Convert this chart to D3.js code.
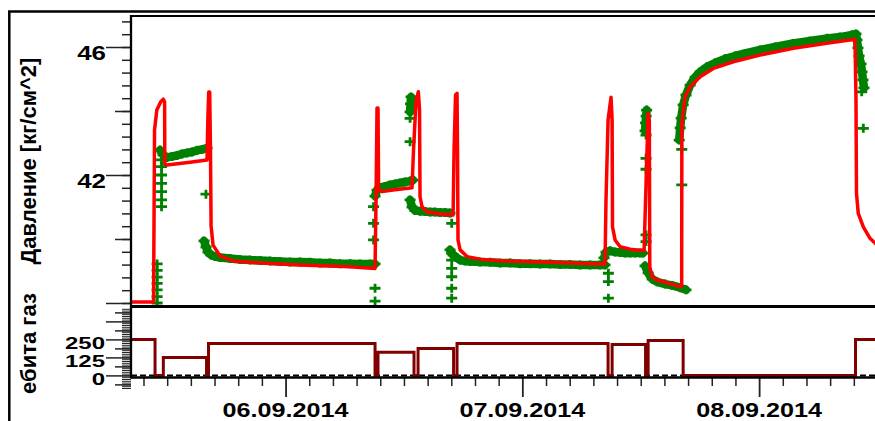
<!DOCTYPE html>
<html>
<head>
<meta charset="utf-8">
<script src="https://cdn.jsdelivr.net/npm/d3@7"></script>
<style>
  html, body { margin: 0; padding: 0; background: #fff; overflow: hidden; }
  svg { display: block; }
  text { font-family: "Liberation Sans", Arial, sans-serif; font-weight: bold; fill: #000; }
</style>
</head>
<body>
<svg id="chart" width="875" height="421"></svg>
<script>
// Time is given in hours since 05.09.2014 00:00.

// Visible time window (hours)
const timeWindow = [8.333, 84.76];

// Model pressure, kg/cm^2 (red line)
const modelPressure = [
  [8.34,38.03],[10.62,38.03],[10.72,43.41],[10.95,44.03],[11.35,44.29],[11.61,44.37],[11.74,44.28],
  [11.76,42.34],[11.96,42.31],[14.32,42.40],[16.04,42.47],[16.12,43.72],[16.21,44.59],[16.31,44.59],
  [16.39,42.78],[16.45,40.41],[16.65,39.81],[17.36,39.47],[18.68,39.31],[20.40,39.27],[25.47,39.19],
  [30.54,39.13],[33.07,39.08],[33.17,41.22],[33.27,44.09],[33.37,44.09],[33.43,41.53],[33.78,41.48],
  [34.89,41.53],[36.82,41.60],[36.97,42.78],[37.23,44.34],[37.46,44.60],[37.58,44.03],[37.63,41.32],
  [37.83,41.01],[38.34,40.85],[39.66,40.78],[40.98,40.75],[41.08,42.78],[41.23,44.50],[41.38,44.55],
  [41.43,42.78],[41.48,39.97],[41.69,39.66],[42.40,39.45],[43.71,39.37],[45.74,39.32],[50.80,39.27],
  [55.87,39.22],[56.38,39.22],[56.48,41.22],[56.69,43.72],[56.99,44.43],[57.10,43.72],[57.14,40.38],
  [57.40,39.97],[57.91,39.76],[58.92,39.68],[60.34,39.63],[60.55,41.84],[60.75,43.93],[60.87,43.72],
  [60.92,39.13],[61.16,38.82],[61.66,38.72],[64.00,38.51],[64.15,38.51],[64.17,43.62],[64.50,44.45],
  [65.01,44.76],[66.02,45.07],[67.36,45.33],[69.38,45.54],[72.10,45.75],[75.47,45.96],[78.85,46.12],
  [81.72,46.24],[81.82,44.34],[81.87,41.43],[82.05,40.80],[82.56,40.38],[83.24,40.02],[84.25,39.72]
];

// Measured pressure, continuous runs (null separates runs)
const measuredRuns = [
  [11.28,42.78],[11.58,42.63],[11.99,42.55],[12.50,42.58],[13.00,42.61],[13.51,42.66],[14.02,42.69],
  [14.52,42.72],[15.03,42.77],[15.54,42.80],[16.04,42.84],
  null,
  [15.74,39.94],[15.94,39.75],[16.14,39.59],[16.45,39.50],[16.86,39.45],[17.36,39.42],[18.38,39.39],
  [19.39,39.36],[20.40,39.34],[21.42,39.33],[22.43,39.31],[23.44,39.30],[24.46,39.28],[25.47,39.28],
  [26.48,39.27],[27.50,39.25],[28.51,39.25],[29.52,39.23],[30.54,39.23],[31.55,39.22],[32.57,39.22],
  [33.07,39.22],
  null,
  [33.07,41.34],[33.27,41.53],[33.58,41.61],[34.08,41.64],[34.59,41.69],[35.10,41.72],[35.60,41.75],
  [36.11,41.78],[36.62,41.81],[36.92,41.84],
  null,
  [36.62,43.97],[36.67,44.22],[36.72,44.44],
  null,
  [36.62,41.22],[36.82,41.00],[37.12,40.89],[37.63,40.87],[38.14,40.86],[38.65,40.84],[39.15,40.84],
  [39.66,40.83],[40.17,40.83],[40.67,40.81],
  null,
  [40.67,39.66],[40.98,39.50],[41.38,39.41],[41.69,39.34],[42.19,39.31],[42.70,39.30],[43.71,39.28],
  [44.73,39.27],[45.74,39.25],[46.75,39.25],[47.76,39.23],[48.78,39.23],[49.79,39.22],[50.80,39.22],
  [51.82,39.20],[52.83,39.20],[53.85,39.19],[54.86,39.19],[55.87,39.19],[56.38,39.19],
  null,
  [56.28,39.41],[56.48,39.59],[56.89,39.63],[57.40,39.59],[57.91,39.58],[58.42,39.56],[58.92,39.56],
  [59.43,39.56],[59.94,39.56],[60.24,39.56],
  null,
  [60.44,43.38],[60.49,43.63],[60.55,43.84],[60.60,44.03],
  null,
  [60.44,39.16],[60.75,38.94],[61.16,38.75],[61.66,38.66],[62.48,38.59],[63.17,38.55],[64.00,38.48],
  [64.59,38.41],
  null,
  [63.90,43.09],[64.00,43.47],[64.10,43.78],[64.30,44.19],[64.59,44.50],[65.01,44.81],[65.52,45.06],
  [66.02,45.22],[66.72,45.38],[67.53,45.50],[68.54,45.63],[69.56,45.72],[70.57,45.80],[72.10,45.91],
  [73.61,46.00],[75.44,46.11],[77.16,46.19],[78.89,46.27],[80.20,46.31],[81.42,46.38],[81.82,46.41],
  [81.92,46.22],[82.02,45.97],[82.13,45.72],[82.33,45.47],[82.43,45.22],[82.53,44.97],[82.63,44.72]
];

// Measured pressure, isolated readings
const measuredScatter = [
  [10.98,39.22],[10.98,39.02],[10.98,38.81],[10.98,38.61],[10.98,38.41],[10.98,38.20],[10.98,38.00],
  [11.43,42.47],[11.43,42.26],[11.43,42.00],[11.43,41.74],[11.43,41.48],[11.43,41.22],[11.43,41.01],
  [15.93,41.40],
  [33.07,38.46],[33.07,38.06],[32.92,41.01],[32.92,40.49],[32.92,39.97],
  [36.62,43.77],[36.62,43.04],
  [40.84,40.49],[40.84,39.55],[40.84,39.34],[40.84,39.08],[40.84,38.82],[40.84,38.46],[40.84,38.15],
  [56.72,38.93],[56.72,38.67],[56.72,38.15],
  [60.54,43.25],[60.54,42.52],[60.54,42.18],[60.54,40.13],[60.54,39.92],
  [64.16,42.80],[64.16,41.69],
  [82.40,44.60],[82.56,43.46]
];

// Gas rate steps (value holds until next time)
const rateTimes  = [8.0, 10.77, 11.61, 15.99, 16.19, 33.07, 33.37, 37.02, 37.43, 41.03, 41.38,
                    56.69, 57.10, 60.49, 60.75, 64.30, 81.77, 86.0];
const rateValues = [250, 0, 125, 0, 222, 0, 160, 0, 187, 0, 222,
                    0, 215, 0, 243, 0, 250, 250];

// Axis ticks and labels
const pressureLabelTicks = [42, 46];
const pressureLongTicks = [38, 42, 46];
const pressureMidTicks = [40, 44];
const rateLabelTicks = [0, 125, 250];
const rateLongTicks = [0, 125, 250, 375];
const rateMidTicks = [-62.5, 62.5, 187.5, 312.5, 437.5];
const dayTickHours = [24, 48, 72];
const dayLabels = ["06.09.2014", "07.09.2014", "08.09.2014"];
const pressureTitle = "Давление [кг/см^2]";
const rateTitle = "ебита газ";

// ---------------------------------------------------------------
const base = new Date(2014, 8, 5).getTime();
const toDate = h => new Date(base + h * 3600e3);

const plotL = 131, plotR = 885;
const topY0 = 16, topY1 = 306;
const botY0 = 307, botY1 = 378;

const x = d3.scaleTime().domain(timeWindow.map(toDate)).range([plotL, plotR]);
const yTop = d3.scaleLinear().domain([37.906, 46.969]).range([topY1, topY0]);
const yBot = d3.scaleLinear().domain([-18.06, 475]).range([botY1, botY0]);

const svg = d3.select("#chart");
const defs = svg.append("defs");
defs.append("clipPath").attr("id", "clipTop").append("rect")
  .attr("x", plotL).attr("y", topY0).attr("width", plotR - plotL).attr("height", topY1 - topY0);
defs.append("clipPath").attr("id", "clipBot").append("rect")
  .attr("x", plotL).attr("y", botY0).attr("width", plotR - plotL).attr("height", botY1 - botY0);

// Outer frame
svg.append("rect").attr("x", 9.3).attr("y", 11.5).attr("width", 950).attr("height", 600)
  .attr("fill", "none").attr("stroke", "#000").attr("stroke-width", 2.5);

// ---- Upper panel: pressure
const gTop = svg.append("g").attr("clip-path", "url(#clipTop)");
const px = d => x(toDate(d[0]));
const py = d => yTop(d[1]);

const green = "#008000";
const runLine = d3.line().defined(d => d !== null).x(px).y(py);
gTop.append("path").datum(measuredRuns)
  .attr("d", runLine).attr("fill", "none").attr("stroke", green)
  .attr("stroke-width", 8.5).attr("stroke-linejoin", "round").attr("stroke-linecap", "round");

const plusPath = "M-5.5,0H5.5M0,-4.5V4.5";
const allMeasured = measuredRuns.filter(d => d !== null).concat(measuredScatter);
gTop.append("g").selectAll("path").data(allMeasured).join("path")
  .attr("transform", d => `translate(${px(d)},${py(d)})`)
  .attr("d", plusPath).attr("stroke", green).attr("stroke-width", 2.8).attr("fill", "none");

gTop.append("path").datum(modelPressure)
  .attr("d", d3.line().x(px).y(py))
  .attr("fill", "none").attr("stroke", "#ff0000").attr("stroke-width", 3.5)
  .attr("stroke-linejoin", "round").attr("stroke-linecap", "round");

// ---- Lower panel: gas rate
const gBot = svg.append("g").attr("clip-path", "url(#clipBot)");
gBot.append("line").attr("x1", plotL).attr("x2", plotR)
  .attr("y1", yBot(0)).attr("y2", yBot(0))
  .attr("stroke", "#000").attr("stroke-width", 2).attr("stroke-dasharray", "6,3");
const rateSeries = rateTimes.map((t, i) => [t, rateValues[i]]);
gBot.append("path").datum(rateSeries)
  .attr("d", d3.line().curve(d3.curveStepAfter).x(d => x(toDate(d[0]))).y(d => yBot(d[1])))
  .attr("fill", "none").attr("stroke", "#800000").attr("stroke-width", 3);

// ---- Axes (ticks only; labels drawn separately)
function leftTicks(scale, values, size, width) {
  const g = svg.append("g").attr("transform", `translate(${plotL},0)`)
    .call(d3.axisLeft(scale).tickValues(values).tickSize(size).tickFormat(""));
  g.select(".domain").remove();
  g.selectAll(".tick line").attr("stroke", "#222").attr("stroke-width", width);
}
const pressureMinor = d3.range(0, 23).map(i => 38 + 0.4 * i);
leftTicks(yTop, pressureMinor, 9, 1.5);
leftTicks(yTop, pressureMidTicks, 16, 1.5);
leftTicks(yTop, pressureLongTicks, 25, 1.5);

const rateComb = d3.range(0, 45).map(i => -87.5 + 12.5 * i);
leftTicks(yBot, rateComb, 9, 1);
leftTicks(yBot, rateMidTicks, 16, 1.5);
leftTicks(yBot, rateLongTicks, 25, 1.5);

const minorHours = d3.range(4, 36).filter(k => k % 10 !== 0).map(k => k * 2.4);
function bottomTicks(hours, size, width) {
  const g = svg.append("g").attr("transform", `translate(0,${botY1})`)
    .call(d3.axisBottom(x).tickValues(hours.map(toDate)).tickSize(size).tickFormat(""));
  g.select(".domain").remove();
  g.selectAll(".tick line").attr("stroke", "#222").attr("stroke-width", width);
}
bottomTicks(minorHours, 8, 1.5);
bottomTicks(dayTickHours, 19, 1.8);

// ---- Panel frame lines
svg.append("line").attr("x1", plotL).attr("x2", 880).attr("y1", topY0).attr("y2", topY0)
  .attr("stroke", "#000").attr("stroke-width", 1.8);
svg.append("line").attr("x1", plotL).attr("x2", 880).attr("y1", 306.5).attr("y2", 306.5)
  .attr("stroke", "#000").attr("stroke-width", 3);
svg.append("line").attr("x1", plotL).attr("x2", 880).attr("y1", 377.5).attr("y2", 377.5)
  .attr("stroke", "#000").attr("stroke-width", 2.3);
svg.append("line").attr("x1", plotL).attr("x2", plotL).attr("y1", topY0 - 1).attr("y2", 378.5)
  .attr("stroke", "#000").attr("stroke-width", 2.3);

// ---- Labels
svg.append("g").selectAll("text").data(pressureLabelTicks).join("text")
  .attr("transform", d => `translate(106,${yTop(d) + 13}) scale(1.33,1)`)
  .attr("text-anchor", "end").attr("font-size", 19.5).text(d => d);

svg.append("g").selectAll("text").data(rateLabelTicks).join("text")
  .attr("transform", d => `translate(105,${yBot(d) + 10}) scale(1.5,1)`)
  .attr("text-anchor", "end").attr("font-size", 16).text(d => d);

svg.append("g").selectAll("text").data(dayLabels).join("text")
  .attr("transform", (d, i) => `translate(${x(toDate(dayTickHours[i]))},417) scale(1.29,1)`)
  .attr("text-anchor", "middle").attr("font-size", 19.5).text(d => d);

svg.append("text").attr("transform", "translate(35.5,161) rotate(-90)")
  .attr("text-anchor", "middle").attr("font-size", 22).text(pressureTitle);
svg.append("text").attr("transform", "translate(35.5,343.5) rotate(-90)")
  .attr("text-anchor", "middle").attr("font-size", 22).text(rateTitle);
</script>
</body>
</html>
